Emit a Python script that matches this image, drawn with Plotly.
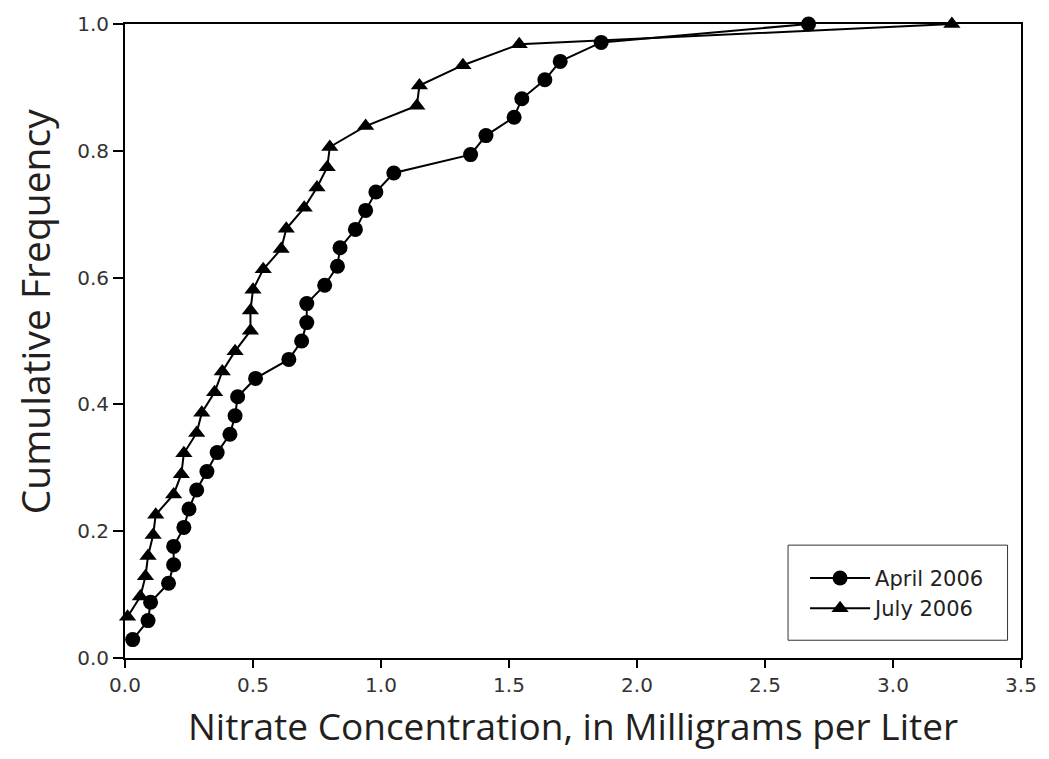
import plotly.graph_objects as go

# April 2006 sample: nitrate concentration (mg/L) and cumulative frequency
april_x = [0.03, 0.09, 0.10, 0.17, 0.19, 0.19, 0.23, 0.25, 0.28, 0.32, 0.36, 0.41,
           0.43, 0.44, 0.51, 0.64, 0.69, 0.71, 0.71, 0.78, 0.83, 0.84, 0.90, 0.94,
           0.98, 1.05, 1.35, 1.41, 1.52, 1.55, 1.64, 1.70, 1.86, 2.67]
april_y = [0.029, 0.059, 0.088, 0.118, 0.147, 0.176, 0.206, 0.235, 0.265, 0.294,
           0.324, 0.353, 0.382, 0.412, 0.441, 0.471, 0.500, 0.529, 0.559, 0.588,
           0.618, 0.647, 0.676, 0.706, 0.735, 0.765, 0.794, 0.824, 0.853, 0.882,
           0.912, 0.941, 0.971, 1.000]

# July 2006 sample
july_x = [0.01, 0.06, 0.08, 0.09, 0.11, 0.12, 0.19, 0.22, 0.23, 0.28, 0.30, 0.35,
          0.38, 0.43, 0.49, 0.49, 0.50, 0.54, 0.61, 0.63, 0.70, 0.75, 0.79, 0.80,
          0.94, 1.14, 1.15, 1.32, 1.54, 3.23]
july_y = [0.065, 0.097, 0.129, 0.161, 0.194, 0.226, 0.258, 0.290, 0.323, 0.355,
          0.387, 0.419, 0.452, 0.484, 0.516, 0.548, 0.581, 0.613, 0.645, 0.677,
          0.710, 0.742, 0.774, 0.806, 0.839, 0.871, 0.903, 0.935, 0.968, 1.000]

series_names = ["April 2006", "July 2006"]
x_title = "Nitrate Concentration, in Milligrams per Liter"
y_title = "Cumulative Frequency"
x_ticks = [0.0, 0.5, 1.0, 1.5, 2.0, 2.5, 3.0, 3.5]
y_ticks = [0.0, 0.2, 0.4, 0.6, 0.8, 1.0]

fig = go.Figure()
fig.add_trace(go.Scatter(
    x=april_x, y=april_y, name=series_names[0], mode="lines+markers",
    line=dict(color="black", width=2),
    marker=dict(symbol="circle", size=15, color="black"),
    cliponaxis=False,
))
fig.add_trace(go.Scatter(
    x=july_x, y=july_y, name=series_names[1], mode="lines+markers",
    line=dict(color="black", width=2),
    marker=dict(symbol="triangle-up", size=15, color="black"),
    cliponaxis=False,
))

tick_font = dict(family="DejaVu Sans, sans-serif", size=20, color="#333333")
title_font_x = dict(family="Open Sans, Noto Sans, sans-serif", size=37, color="#231f20")
title_font_y = dict(family="Open Sans, Noto Sans, sans-serif", size=39, color="#231f20")

fig.update_layout(
    width=1041, height=751,
    margin=dict(l=117, r=28, t=16, b=101),
    paper_bgcolor="white", plot_bgcolor="white",
    showlegend=True,
    legend=dict(
        x=0.759, y=0.158, xanchor="left", yanchor="top",
        bgcolor="rgba(0,0,0,0)", borderwidth=0,
        font=dict(family="DejaVu Sans, sans-serif", size=21, color="#222222"),
        itemwidth=60, tracegroupgap=0,
    ),
    shapes=[dict(
        type="rect", xref="paper", yref="paper",
        x0=0.740, x1=0.985, y0=0.028, y1=0.178,
        line=dict(color="#333333", width=1), fillcolor="rgba(0,0,0,0)", layer="below",
    )],
    annotations=[
        dict(text=x_title, xref="paper", yref="paper", x=0.5, y=-0.106,
             xanchor="center", yanchor="middle", showarrow=False, font=title_font_x),
        dict(text=y_title, xref="paper", yref="paper", x=-0.101, y=0.546,
             xanchor="center", yanchor="middle", textangle=-90, showarrow=False,
             font=title_font_y),
    ],
)

fig.update_xaxes(
    range=[0, 3.5], tickvals=x_ticks, ticktext=[f"{v:.1f}" for v in x_ticks],
    ticks="outside", ticklen=8, tickwidth=1.5, tickcolor="black",
    showline=True, linecolor="black", linewidth=2, mirror=True,
    showgrid=False, zeroline=False, tickfont=tick_font, automargin=False,
)
fig.update_yaxes(
    range=[0, 1.0], tickvals=y_ticks, ticktext=[f"{v:.1f}" for v in y_ticks],
    ticks="outside", ticklen=10, tickwidth=1.5, tickcolor="black",
    showline=True, linecolor="black", linewidth=2, mirror=True,
    showgrid=False, zeroline=False, tickfont=tick_font, automargin=False,
)

fig.write_html("out.html")
